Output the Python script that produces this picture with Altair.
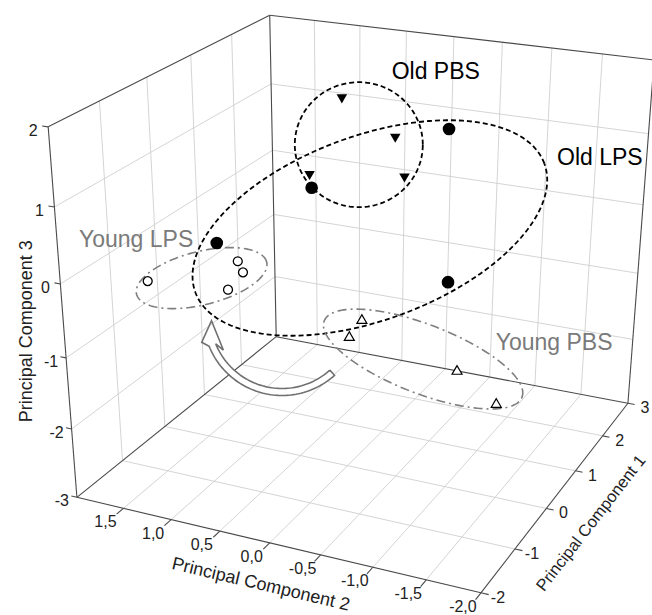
import numpy as np
import pandas as pd
import altair as alt

W, H = 652, 615
FONT = "Liberation Sans"

# ---- data: principal component scores (PC1, PC2, PC3) ----
old_pbs_pc1 = [1.20, 1.60, 0.80, 1.80]
old_pbs_pc2 = [0.51, 0.11, 0.69, 0.08]
old_pbs_pc3 = [1.60, 1.01, 0.66, 0.39]
old_lps_pc1 = [-0.50, 0.50, 2.00, 2.00]
old_lps_pc2 = [1.11, 0.55, -0.30, -0.33]
old_lps_pc3 = [0.14, 0.63, 1.08, -1.11]
young_lps_pc1 = [-1.50, -0.50, -0.50, -0.70]
young_lps_pc2 = [1.36, 0.90, 0.85, 0.92]
young_lps_pc3 = [-0.02, -0.06, -0.20, -0.37]
young_pbs_pc1 = [0.50, 0.50, 1.00, 1.50]
young_pbs_pc2 = [0.04, 0.17, -0.77, -1.03]
young_pbs_pc3 = [-1.09, -1.37, -1.85, -2.52]

pc1_ticks = [-2, -1, 0, 1, 2, 3]
pc1_labels = ["-2", "-1", "0", "1", "2", "3"]
pc2_ticks = [-2.0, -1.5, -1.0, -0.5, 0.0, 0.5, 1.0, 1.5, 2.0]
pc2_labels = ["-2,0", "-1,5", "-1,0", "-0,5", "0,0", "0,5", "1,0", "1,5", ""]
pc3_ticks = [-3, -2, -1, 0, 1, 2]
pc3_labels = ["-3", "-2", "-1", "0", "1", "2"]

# ---- view: perspective camera calibrated on the box corners ----
box_corners = np.array([[-2, -2, -3], [-2, 2, -3], [3, 2, -3], [3, -2, -3],
                        [-2, 2, 2], [3, 2, 2], [3, -2, 2]], float)
view_px = np.array([[481, 593], [77, 497], [276, 337], [628, 403],
                    [48, 127], [270, 15], [654, 60]], float)


def dlt(Xw, xp):
    mX = Xw.mean(0)
    sX = np.sqrt(((Xw - mX) ** 2).sum(1).mean() / 3)
    T3 = np.diag([1 / sX] * 3 + [1.0]); T3[:3, 3] = -mX / sX
    mx = xp.mean(0)
    sx = np.sqrt(((xp - mx) ** 2).sum(1).mean() / 2)
    T2 = np.diag([1 / sx] * 2 + [1.0]); T2[:2, 2] = -mx / sx
    Xh = (T3 @ np.c_[Xw, np.ones(len(Xw))].T).T
    xh = (T2 @ np.c_[xp, np.ones(len(xp))].T).T
    A = []
    for Xi, (u, v, _) in zip(Xh, xh):
        A.append(np.r_[Xi, np.zeros(4), -u * Xi])
        A.append(np.r_[np.zeros(4), Xi, -v * Xi])
    _, _, Vt = np.linalg.svd(np.array(A))
    return np.linalg.inv(T2) @ Vt[-1].reshape(3, 4) @ T3


P = dlt(box_corners, view_px)


def proj(a, b, c):
    h = P @ np.array([a, b, c, 1.0])
    return h[0] / h[2], h[1] / h[2]


def seg_rows(segs):
    rows = []
    for p, q in segs:
        x1, y1 = proj(*p); x2, y2 = proj(*q)
        rows.append(dict(x=x1, y=y1, x2=x2, y2=y2))
    return pd.DataFrame(rows)


X1, X2 = -2, 3
Y1, Y2 = -2, 2
Z1, Z2 = -3, 2
grid = []
for a in pc1_ticks[1:-1]:
    grid.append(((a, Y1, Z1), (a, Y2, Z1)))
    grid.append(((a, Y2, Z1), (a, Y2, Z2)))
for b in pc2_ticks[1:-1]:
    grid.append(((X1, b, Z1), (X2, b, Z1)))
    grid.append(((X2, b, Z1), (X2, b, Z2)))
for c in pc3_ticks[1:-1]:
    grid.append(((X1, Y2, c), (X2, Y2, c)))
    grid.append(((X2, Y1, c), (X2, Y2, c)))
edges = [((X1, Y1, Z1), (X2, Y1, Z1)), ((X1, Y1, Z1), (X1, Y2, Z1)),
         ((X1, Y2, Z1), (X2, Y2, Z1)), ((X2, Y1, Z1), (X2, Y2, Z1)),
         ((X1, Y2, Z1), (X1, Y2, Z2)), ((X2, Y2, Z1), (X2, Y2, Z2)),
         ((X2, Y1, Z1), (X2, Y1, Z2)), ((X1, Y2, Z2), (X2, Y2, Z2)),
         ((X2, Y2, Z2), (X2, Y1, Z2))]
ticks = []
for a in pc1_ticks:
    ticks.append(((a, Y1, Z1), (a, Y1 - 0.07, Z1)))
for b in pc2_ticks[:-1]:
    ticks.append(((X1, b, Z1), (X1 - 0.15, b, Z1)))
for c in pc3_ticks:
    ticks.append(((X1, Y2, c), (X1, Y2 + 0.06, c)))

grid_df = seg_rows(grid)
edge_df = seg_rows(edges + ticks)

# tick labels
lab_rows = []
for a, t in zip(pc1_ticks, pc1_labels):
    x, y = proj(a, Y1, Z1); lab_rows.append(dict(x=x + 17, y=y + 5, t=t))
for b, t in zip(pc2_ticks, pc2_labels):
    x, y = proj(X1, b, Z1); lab_rows.append(dict(x=x - 18, y=y + 14, t=t))
for c, t in zip(pc3_ticks, pc3_labels):
    x, y = proj(X1, Y2, c); lab_rows.append(dict(x=x - 15, y=y + 4, t=t))
lab_df = pd.DataFrame(lab_rows)

# axis titles
xa, ya = proj(X1, 0, Z1); xb, yb = proj(X1, Y2, Z1)
ang2 = float(np.degrees(np.arctan2(ya - yb, xa - xb))) % 360
xc, yc = proj(X2, Y1, Z1); xd, yd = proj(X1, Y1, Z1)
ang1 = float(np.degrees(np.arctan2(yc - yd, xc - xd))) % 360
t2x, t2y = proj(X1, 0, Z1)
t1x, t1y = proj(0.5, Y1, Z1)
t3x, t3y = proj(X1, Y2, -0.5)

# groups
groups = {
    "Old PBS": (old_pbs_pc1, old_pbs_pc2, old_pbs_pc3),
    "Old LPS": (old_lps_pc1, old_lps_pc2, old_lps_pc3),
    "Young LPS": (young_lps_pc1, young_lps_pc2, young_lps_pc3),
    "Young PBS": (young_pbs_pc1, young_pbs_pc2, young_pbs_pc3),
}
pts = {}
for g, (a, b, c) in groups.items():
    xy = [proj(*p) for p in zip(a, b, c)]
    pts[g] = pd.DataFrame(dict(x=[p[0] for p in xy], y=[p[1] for p in xy], g=g))

# ellipse annotations: centred on each group's projected centroid
ell_style = {  # shift dx, dy, semi-axes a, b, tilt (deg)
    "Old PBS": (-4, -3, 64, 62.5, 0),
    "Old LPS": (13.5, 17.5, 186, 92, 20.3),
    "Young LPS": (-12.5, 2, 67, 26.7, 13.9),
    "Young PBS": (7, 2, 106, 34.5, -21.1),
}
label_off = {"Old PBS": (77, -73), "Old LPS": (230, -70),
             "Young LPS": (-65.5, -38.5), "Young PBS": (131, -16)}
ell_rows, ann_rows = [], []
tt = np.linspace(0, 2 * np.pi, 181)
for g, (dx, dy, ea, eb, th) in ell_style.items():
    cx = pts[g].x.mean() + dx
    cy = pts[g].y.mean() + dy
    r = np.radians(th)
    for i, t in enumerate(tt):
        ell_rows.append(dict(g=g, i=i,
                             x=cx + ea * np.cos(t) * np.cos(r) - eb * np.sin(t) * np.sin(r),
                             y=cy - (ea * np.cos(t) * np.sin(r) + eb * np.sin(t) * np.cos(r))))
    ann_rows.append(dict(g=g, x=cx + label_off[g][0], y=cy + label_off[g][1]))
ell_df = pd.DataFrame(ell_rows)
ann_df = pd.DataFrame(ann_rows)

# curved hollow arrow (annotation)
acx, acy, ar, ahw = 282, 317, 75, 3.5
a_tail, a_base = 48, 158
head = [(150.6, 67.3), (177, 70.6), (162.5, 84.2)]  # inner barb, tip, outer barb
outline = []
for ang in np.linspace(a_tail, a_base, 60):
    outline.append((ang, ar - ahw))
outline += head
for ang in np.linspace(a_base, a_tail, 60):
    outline.append((ang, ar + ahw))
outline.append((a_tail, ar - ahw))
arrow_df = pd.DataFrame([dict(i=i, x=acx + rr * np.cos(np.radians(an)),
                              y=acy + rr * np.sin(np.radians(an)))
                         for i, (an, rr) in enumerate(outline)])
arrow_fill = pd.DataFrame([dict(i=i, x=acx + ar * np.cos(np.radians(an)),
                                y=acy + ar * np.sin(np.radians(an)))
                           for i, an in enumerate(np.linspace(a_tail + 1, a_base, 60))])

# ---- chart ----
XS = alt.X("x:Q", scale=alt.Scale(domain=[0, W]), axis=None)
YS = alt.Y("y:Q", scale=alt.Scale(domain=[0, H], reverse=True), axis=None)

grid_l = alt.Chart(grid_df).mark_rule(color="#cfcfcf", strokeWidth=0.9).encode(XS, YS, x2="x2:Q", y2="y2:Q")
edge_l = alt.Chart(edge_df).mark_rule(color="#4a4a4a", strokeWidth=1.1).encode(XS, YS, x2="x2:Q", y2="y2:Q")

arrow_w = alt.Chart(arrow_fill).mark_line(color="white", strokeWidth=6).encode(XS, YS, order="i:Q")
arrow_l = alt.Chart(arrow_df).mark_line(color="#707070", strokeWidth=1.6).encode(XS, YS, order="i:Q")

old_ell = alt.Chart(ell_df[ell_df.g.str.startswith("Old")]).mark_line(
    color="black", strokeWidth=1.8, strokeDash=[5, 3]).encode(XS, YS, detail="g:N", order="i:Q")
young_ell = alt.Chart(ell_df[ell_df.g.str.startswith("Young")]).mark_line(
    color="#7f7f7f", strokeWidth=1.6, strokeDash=[9, 4, 2, 4]).encode(XS, YS, detail="g:N", order="i:Q")

p_opbs = alt.Chart(pts["Old PBS"]).mark_point(shape="triangle-down", filled=True, color="black", size=110, opacity=1).encode(XS, YS)
p_olps = alt.Chart(pts["Old LPS"]).mark_point(shape="circle", filled=True, color="black", size=160, opacity=1).encode(XS, YS)
p_ylps = alt.Chart(pts["Young LPS"]).mark_point(shape="circle", filled=True, fill="white", stroke="black", strokeWidth=1.3, size=80, opacity=1).encode(XS, YS)
p_ypbs = alt.Chart(pts["Young PBS"]).mark_point(shape="triangle-up", filled=True, fill="white", stroke="black", strokeWidth=1.2, size=100, opacity=1).encode(XS, YS)

old_txt = alt.Chart(ann_df[ann_df.g.str.startswith("Old")]).mark_text(
    font=FONT, fontSize=23, color="black").encode(XS, YS, text="g:N")
young_txt = alt.Chart(ann_df[ann_df.g.str.startswith("Young")]).mark_text(
    font=FONT, fontSize=23, color="#7a7a7a").encode(XS, YS, text="g:N")

tick_txt = alt.Chart(lab_df).mark_text(font=FONT, fontSize=16, color="#222").encode(XS, YS, text="t:N")

t3 = alt.Chart(pd.DataFrame([dict(x=t3x - 36, y=t3y + 10, t="Principal Component 3")])).mark_text(
    font=FONT, fontSize=18, color="#222", angle=270).encode(XS, YS, text="t:N")
t2 = alt.Chart(pd.DataFrame([dict(x=t2x - 9, y=t2y + 42, t="Principal Component 2")])).mark_text(
    font=FONT, fontSize=18, color="#222", angle=ang2).encode(XS, YS, text="t:N")
t1 = alt.Chart(pd.DataFrame([dict(x=t1x + 30, y=t1y + 34, t="Principal Component 1")])).mark_text(
    font=FONT, fontSize=16.5, color="#222", angle=ang1).encode(XS, YS, text="t:N")

chart = alt.layer(grid_l, edge_l, arrow_w, arrow_l, old_ell, young_ell,
                  p_opbs, p_olps, p_ylps, p_ypbs, old_txt, young_txt,
                  tick_txt, t3, t2, t1).properties(
    width=W, height=H, padding=0, autosize=alt.AutoSizeParams(type="none"),
    background="white").configure_view(stroke=None)

chart.save("out.html", embed_options={"renderer": "svg", "actions": False})
